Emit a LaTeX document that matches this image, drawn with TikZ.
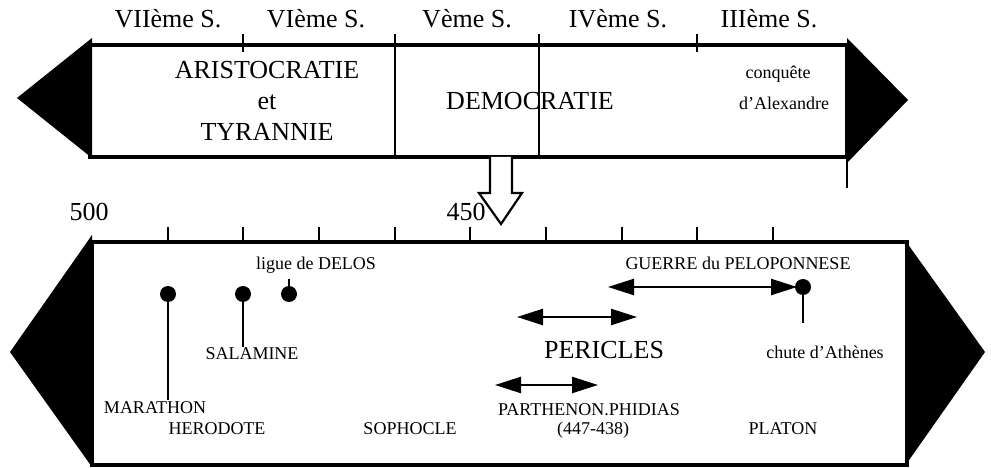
\documentclass[tikz,border=0pt]{standalone}
\usepackage{fontspec}
\setmainfont{Liberation Serif}
\usetikzlibrary{arrows.meta}
\begin{document}
\begin{tikzpicture}[x=1pt,y=-1pt,
  big/.style={font=\fontsize{26}{30}\selectfont, inner sep=0pt, anchor=base},
  small/.style={font=\fontsize{18}{21}\selectfont, inner sep=0pt, anchor=base},
  band/.style={line width=3.6pt},
  divider/.style={line width=2.2pt},
  tickmark/.style={line width=2.4pt},
  span/.style={line width=2.4pt, {Triangle[length=26pt,width=16pt]}-{Triangle[length=26pt,width=16pt]}},
  dot/.style={circle, fill=black, draw=none, inner sep=0pt, minimum size=16pt},
  stem/.style={line width=2.6pt}]
\useasboundingbox (0,0) rectangle (991,468);

% ---------- top band ----------
\draw[band] (90,45) rectangle (847,157);
\fill (92,38) -- (17,98) -- (92,158) -- cycle;
\fill (847,38) -- (908,100) -- (847,163) -- cycle;
\draw[divider] (395,34) -- (395,157);
\draw[divider] (539,34) -- (539,157);
\draw[tickmark] (243,34) -- (243,52);
\draw[tickmark] (697,34) -- (697,52);
\draw[divider] (847,157) -- (847,188);

\node[big] (s7) at (168,28) {VIIème S.};
\node[big] (s6) at (316,28) {VIème S.};
\node[big] (s5) at (467,28) {Vème S.};
\node[big] (s4) at (618,28) {IVème S.};
\node[big] (s3) at (769,28) {IIIème S.};

\node[big] (aris) at (267,79) {ARISTOCRATIE};
\node[big] (et) at (267,110) {et};
\node[big] (tyr) at (267,141) {TYRANNIE};
\node[big] (demo) at (530,110) {DEMOCRATIE};
\node[small] (conq) at (778,79) {conquête};
\node[small] (alex) at (784,110) {d’Alexandre};

% open down arrow
\draw[line width=2.2pt, fill=white, line join=miter]
  (490,157) -- (490,193) -- (479,193) -- (501,224) -- (522,193) -- (512,193) -- (512,157);

% ---------- bottom band ----------
\node[big] (d500) at (89,220) {500};
\node[big] (d450) at (466,220) {450};

\draw[band] (92,242) rectangle (907,465);
\fill (92,235) -- (10,352) -- (92,467) -- cycle;
\fill (907,243) -- (985,352) -- (907,463) -- cycle;
\foreach \t in {168,243,319,395,470,546,622,697,773}
  \draw[tickmark] (\t,227) -- (\t,242);

% events
\coordinate (marE) at (168,400);
\coordinate (salE) at (243,347);
\coordinate (delE) at (289,279);
\coordinate (athE) at (803,323);
\node[dot] (marD) at (168,294) {};
\node[dot] (salD) at (243,294) {};
\node[dot] (delD) at (289,294) {};
\node[dot] (athD) at (803,287) {};
\draw[stem] (marD.center) -- (marE);
\draw[stem] (salD.center) -- (salE);
\draw[stem] (delD.center) -- (delE);
\draw[stem] (athD.center) -- (athE);

\coordinate (gueL) at (608,287);
\coordinate (gueR) at (797,287);
\coordinate (perL) at (517,317);
\coordinate (perR) at (637,317);
\coordinate (parL) at (495,385);
\coordinate (parR) at (598,385);
\draw[span] (gueL) -- (gueR);
\draw[span] (perL) -- (perR);
\draw[span] (parL) -- (parR);

\node[small] (delos) at (316,269) {ligue de DELOS};
\node[small] (guerre) at (738,269) {GUERRE du PELOPONNESE};
\node[small] (sal) at (252,359) {SALAMINE};
\node[big] (peri) at (604,358) {PERICLES};
\node[small] (chute) at (825,358) {chute d’Athènes};
\node[small] (mar) at (155,413) {MARATHON};
\node[small] (parth) at (589,415) {PARTHENON.PHIDIAS};
\node[small] (hero) at (217,434) {HERODOTE};
\node[small] (soph) at (410,434) {SOPHOCLE};
\node[small] (dates) at (593,434) {(447-438)};
\node[small] (plat) at (783,434) {PLATON};
\end{tikzpicture}
\end{document}
